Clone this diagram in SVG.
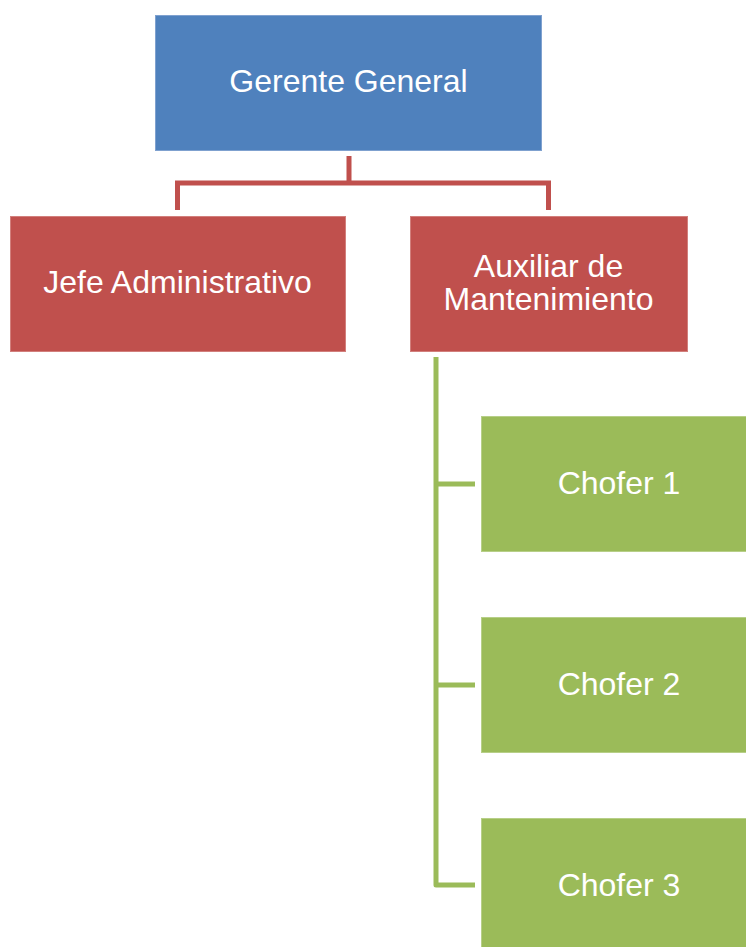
<svg xmlns="http://www.w3.org/2000/svg" width="746" height="947" viewBox="0 0 746 947">
<style>
.lbl{font-family:"Liberation Sans",Arial,sans-serif;font-size:32px;fill:#ffffff;text-anchor:middle}
.blue{fill:#4F81BD;stroke:#7FA1CF;stroke-width:1}
.red{fill:#C0504D;stroke:#D27F7C;stroke-width:1}
.green{fill:#9BBB59;stroke:#B7CF88;stroke-width:1}
.cr{fill:none;stroke:#C0504D;stroke-width:5}
.cg{fill:none;stroke:#9BBB59;stroke-width:5;stroke-linejoin:round}
</style>
<rect width="746" height="947" fill="#ffffff"/>
<g id="connectors">
<path class="cr" d="M349,156 V183 M177.5,210 V183 H548.5 V210"/>
<path class="cg" d="M436,357 V885 H475 M436,484 H475 M436,685 H475"/>
</g>
<g id="gerente">
<rect class="blue" x="155.5" y="15.5" width="386" height="135"/>
<text class="lbl" x="348.5" y="92">Gerente General</text>
</g>
<g id="jefe">
<rect class="red" x="10.5" y="216.5" width="335" height="135"/>
<text class="lbl" x="177.5" y="293">Jefe Administrativo</text>
</g>
<g id="auxiliar">
<rect class="red" x="410.5" y="216.5" width="277" height="135"/>
<text class="lbl" x="548.5" y="277">Auxiliar de</text>
<text class="lbl" x="548.5" y="310">Mantenimiento</text>
</g>
<g id="chofer1">
<rect class="green" x="481.5" y="416.5" width="276" height="135"/>
<text class="lbl" x="619" y="494">Chofer 1</text>
</g>
<g id="chofer2">
<rect class="green" x="481.5" y="617.5" width="276" height="135"/>
<text class="lbl" x="619" y="695">Chofer 2</text>
</g>
<g id="chofer3">
<rect class="green" x="481.5" y="818.5" width="276" height="135"/>
<text class="lbl" x="619" y="896">Chofer 3</text>
</g>
</svg>
